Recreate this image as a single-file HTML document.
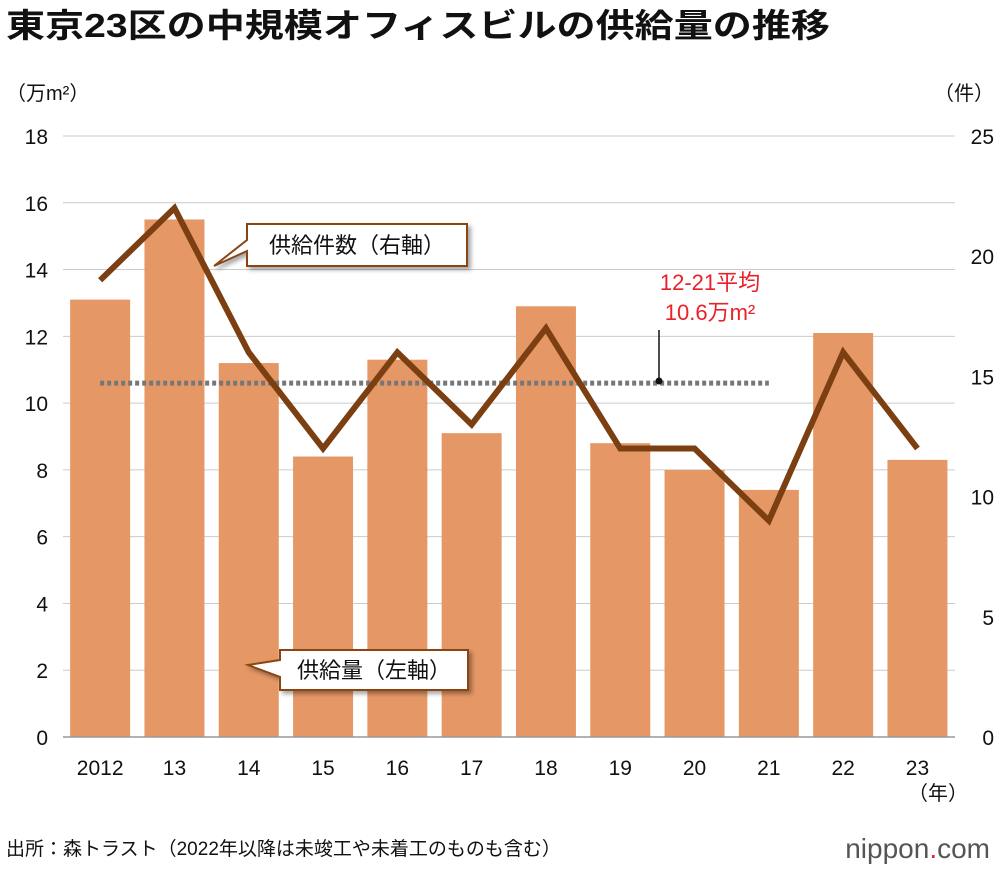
<!DOCTYPE html>
<html><head><meta charset="utf-8">
<style>
body{margin:0;background:#fff;}
svg text{font-family:"Liberation Sans","Noto Sans CJK JP",sans-serif;}
</style></head>
<body>
<svg id="chart" width="1000" height="870" viewBox="0 0 1000 870" xmlns="http://www.w3.org/2000/svg">
<text x="6" y="37" font-size="33" font-weight="bold" fill="#111" textLength="824" lengthAdjust="spacingAndGlyphs">東京23区の中規模オフィスビルの供給量の推移</text>
<text x="6" y="100" font-size="20" fill="#111">（万m²）</text>
<text x="994" y="100" font-size="20" fill="#111" text-anchor="end">（件）</text>
<g id="grid"></g><g id="bars"></g><g id="avg"></g><g id="line"></g><g id="axes"></g>
<g>
<path d="M247,224 L467,224 L467,266 L247,266 L247,251 L214,266 L247,240 Z" fill="#fff" stroke="#8b4513" stroke-width="2" style="filter:drop-shadow(3px 3px 2px rgba(0,0,0,0.35))"/>
<text x="357" y="253" font-size="22" text-anchor="middle" fill="#111">供給件数（右軸）</text>
</g>
<g>
<path d="M280,650 L468,650 L468,690 L280,690 L280,677 L248,665 L280,660 Z" fill="#fff" stroke="#8b4513" stroke-width="2" style="filter:drop-shadow(3px 3px 2px rgba(0,0,0,0.35))"/>
<text x="374" y="678" font-size="22" text-anchor="middle" fill="#111">供給量（左軸）</text>
</g>
<text x="710" y="290" font-size="22" fill="#e8212a" text-anchor="middle">12-21平均</text>
<text x="710" y="320" font-size="22" fill="#e8212a" text-anchor="middle">10.6万m²</text>
<line x1="659" y1="330" x2="659" y2="381" stroke="#111" stroke-width="1.5"/>
<circle cx="659" cy="381" r="3.5" fill="#111"/>
<text x="938" y="800" font-size="20" fill="#111" text-anchor="middle">（年）</text>
<text x="6" y="855" font-size="19" fill="#111">出所：森トラスト（2022年以降は未竣工や未着工のものも含む）</text>
<text x="990" y="858" font-size="28" fill="#555" text-anchor="end">nippon<tspan fill="#e8212a">.</tspan>com</text>
</svg>
<script>
const years=["2012","13","14","15","16","17","18","19","20","21","22","23"];
const supply=[13.1,15.5,11.2,8.4,11.3,9.1,12.9,8.8,8.0,7.4,12.1,8.3];
const counts=[19,22,16,12,16,13,17,12,12,9,16,12];
const leftTicks=[0,2,4,6,8,10,12,14,16,18];
const rightTicks=[0,5,10,15,20,25];
const avgValue=10.6, avgStart=0, avgEnd=9;
const NS="http://www.w3.org/2000/svg";
const y0=737,y1=136,x0=63,step=74.3,bw=60;
const yL=v=>y0-(v/18)*(y0-y1);
const yR=v=>y0-(v/25)*(y0-y1);
const xC=i=>x0+step*(i+0.5);
function mk(tag,attrs,parent){const e=document.createElementNS(NS,tag);for(const k in attrs)e.setAttribute(k,attrs[k]);document.getElementById(parent).appendChild(e);return e;}
leftTicks.forEach(t=>{
 const l=mk('line',{x1:63,x2:955,y1:yL(t),y2:yL(t),stroke:'#ccc','stroke-width':1},'grid');
 
 
 const tx=mk('text',{x:48,y:yL(t)+8,'font-size':21,'text-anchor':'end',fill:'#111'},'axes');tx.textContent=t;
 
 
});
rightTicks.forEach(t=>{
 const tx=mk('text',{x:994,y:yR(t)+8,'font-size':21,'text-anchor':'end',fill:'#111'},'axes');tx.textContent=t;
 
 
});
supply.forEach((v,i)=>{
 const r=mk('rect',{x:xC(i)-bw/2,y:yL(v),width:bw,height:y0-yL(v),fill:'#e59866'},'bars');
 
 
 const tx=mk('text',{x:xC(i),y:775,'font-size':21,'text-anchor':'middle',fill:'#111'},'axes');tx.textContent=years[i];
 
 
});
const base=mk('line',{x1:63,x2:955,y1:y0,y2:y0,stroke:'#999','stroke-width':1.5},'axes');


const av=mk('line',{x1:xC(avgStart),x2:xC(avgEnd),y1:yL(avgValue),y2:yL(avgValue),stroke:'#777','stroke-width':5,'stroke-dasharray':'4 3'},'avg');


const pts=counts.map((c,i)=>xC(i)+','+yR(c)).join(' ');
const pl=mk('polyline',{points:pts,fill:'none',stroke:'#7b3f12','stroke-width':6,'stroke-linejoin':'miter'},'line');


</script>
</body></html>
